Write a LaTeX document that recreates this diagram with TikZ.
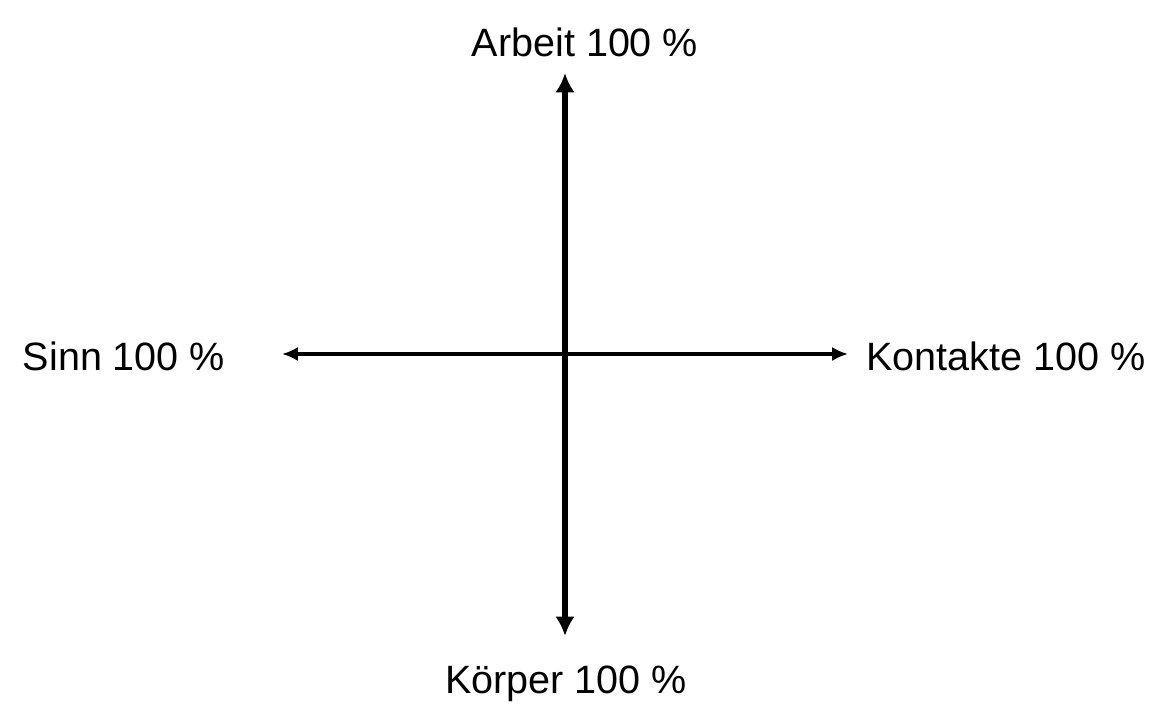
\documentclass[tikz,border=0pt]{standalone}
\usepackage{fontspec}
\setmainfont{Liberation Sans}
\usetikzlibrary{arrows.meta}

\begin{document}
\begin{tikzpicture}[x=0.02cm, y=-0.02cm, font=\fontsize{22.5}{26}\selectfont]
    \useasboundingbox[fill=white] (0,0) rectangle (1154,705);
    \coordinate (mid) at (565,354);
    \coordinate (top) at (565,73);
    \coordinate (bot) at (565,636);
    \coordinate (lft) at (282,354);
    \coordinate (rgt) at (848,354);
    \node (arbeit) at (585,42) {Arbeit 100 \%};
    \node (koerper) at (566,684) {Körper 100 \%};
    \node (sinn) at (124,356) {Sinn 100 \%};
    \node (kontakte) at (1006,356) {Kontakte 100 \%};
    \draw[line width=3pt, {Latex[length=11pt,width=11pt]}-{Latex[length=11pt,width=11pt]}] (bot) -- (top);
    \draw[line width=2.2pt, {Latex[length=9pt,width=8pt]}-{Latex[length=9pt,width=8pt]}] (lft) -- (rgt);
\end{tikzpicture}
\end{document}
